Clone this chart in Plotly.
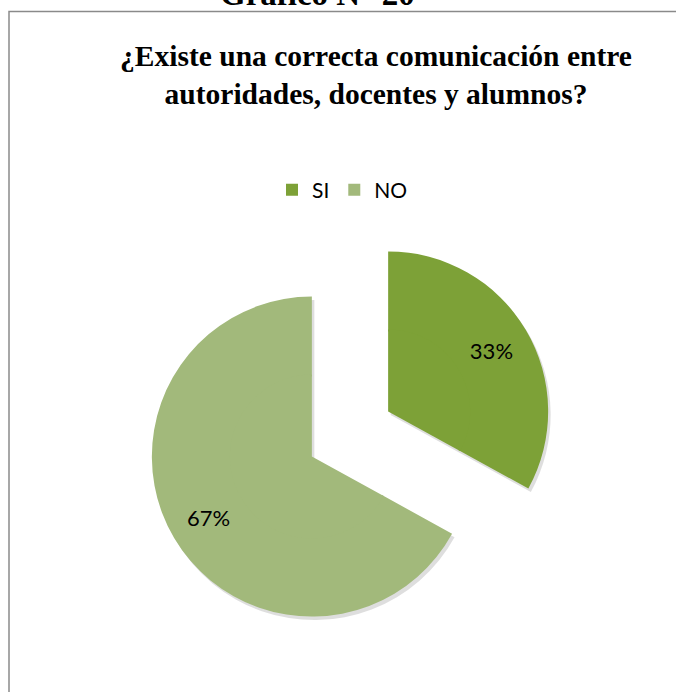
import plotly.graph_objects as go

categories = ["SI", "NO"]
values = [33, 67]
colors = ["#7DA137", "#A2B97B"]
title_lines = ["¿Existe una correcta comunicación entre", "autoridades, docentes y alumnos?"]
header_text = "Gráfico N° 20"

W, H = 676, 692
# pie geometry (pixels)
cx, cy = 350, 434
r_out = 160.0
pull = 0.277
shift_px = pull * r_out          # explode distance of each slice
hole = 0.5
r_in = r_out * hole + 2.0        # inner filler slightly overlaps the ring hole


def dom(cxp, cyp, r, p):
    half = r * (1 + p)
    return dict(x=[(cxp - half) / W, (cxp + half) / W],
                y=[(H - cyp - half) / H, (H - cyp + half) / H])


pull_in = shift_px / r_in
common = dict(labels=categories, values=values, sort=False, direction="clockwise", rotation=0)

fig = go.Figure()
# soft shadow behind slices
fig.add_trace(go.Pie(
    **common, pull=[pull, pull], domain=dom(cx + 2.5, cy + 3.5, r_out, pull),
    marker=dict(colors=["rgba(0,0,0,0.13)", "rgba(0,0,0,0.13)"], line=dict(width=0)),
    textinfo="none", hoverinfo="skip", showlegend=False,
))
# outer ring carrying the percentage labels
fig.add_trace(go.Pie(
    **common, pull=[pull, pull], hole=hole, domain=dom(cx, cy, r_out, pull),
    marker=dict(colors=colors, line=dict(width=0)),
    texttemplate="%{percent:.0%}", textposition="inside",
    insidetextorientation="horizontal",
    textfont=dict(family="Lato, Carlito, sans-serif", size=22, color="#000000"),
    hoverinfo="skip", showlegend=True,
))
# inner filler so the pie looks solid
fig.add_trace(go.Pie(
    **common, pull=[pull_in, pull_in], domain=dom(cx, cy, r_in, pull_in),
    marker=dict(colors=colors, line=dict(width=0)),
    textinfo="none", hoverinfo="skip", showlegend=False,
))

fig.update_layout(
    width=W, height=H,
    margin=dict(l=0, r=0, t=0, b=0),
    paper_bgcolor="white", plot_bgcolor="white",
    title=dict(
        text="<br>".join(title_lines),
        x=376 / W, xanchor="center", xref="paper",
        y=1 - 65.5 / H, yanchor="middle", yref="container",
        font=dict(family="Liberation Serif, Times New Roman, serif", size=29.5, color="#000000", weight="bold"),
    ),
    legend=dict(
        orientation="h", x=272 / W, xanchor="left", y=1 - 190 / H, yanchor="middle",
        font=dict(family="Lato, Carlito, sans-serif", size=21, color="#000000"),
        traceorder="normal", bgcolor="rgba(0,0,0,0)",
    ),
    shapes=[dict(
        type="rect", xref="paper", yref="paper",
        x0=9 / W, x1=1.02, y0=-0.02, y1=1 - 11.5 / H,
        line=dict(color="#8a8a8a", width=1.5), fillcolor="rgba(0,0,0,0)", layer="below",
    )],
    annotations=[dict(
        text="<b>" + header_text + "</b>", xref="paper", yref="paper",
        x=317 / W, xanchor="center", y=1, yanchor="bottom", showarrow=False,
        font=dict(family="Liberation Serif, Times New Roman, serif", size=33, color="#000000"),
        yshift=-14,
    )],
)

fig.write_html("out.html", config={"displayModeBar": False},
               post_script="document.body.style.margin='0';")
